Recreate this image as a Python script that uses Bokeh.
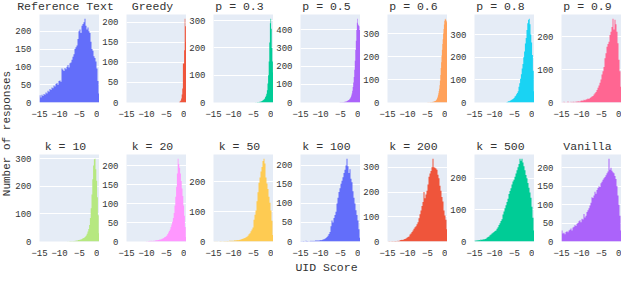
import numpy as np
from math import pi
from bokeh.plotting import figure
from bokeh.layouts import row, column
from bokeh.models import Range1d, FixedTicker, Label, ColumnDataSource
from bokeh.embed import file_html
from bokeh.resources import INLINE

# ---------------- data ----------------
titles = ["Reference Text", "Greedy", "p = 0.3", "p = 0.5", "p = 0.6", "p = 0.8", "p = 0.9",
          "k = 10", "k = 20", "k = 50", "k = 100", "k = 200", "k = 500", "Vanilla"]

# first bin edge and bin width for each histogram
bin_starts = [-15.0, -1.8, -4.5, -5.2, -5.0, -7.0, -15.0,
              -8.0, -10.0, -15.0, -15.0, -15.0, -15.0, -15.0]
bin_widths = [0.25, 0.15, 0.15, 0.13, 0.1, 0.2, 0.25,
              0.2, 0.2, 0.25, 0.25, 0.25, 0.25, 0.25]

reference_text = [20, 14, 22, 18, 24, 22, 28, 25, 33, 30, 38, 35, 42, 40, 48, 45,
                  52, 55, 50, 60, 62, 58, 95, 92, 88, 97, 93, 100, 105, 98, 110, 112,
                  120, 128, 135, 150, 155, 160, 178, 200, 205, 195, 215, 220,
                  225, 235, 215, 205, 210, 200, 195, 170, 150, 145, 130, 125, 115, 95, 60, 25]
greedy = [2, 3, 5, 10, 20, 35, 97, 97, 130, 209, 190, 150]
p_03 = [1, 0, 1, 2, 1, 2, 3, 2, 4, 5, 5, 6, 8, 10, 12, 15, 20, 25, 32, 45,
        70, 100, 150, 220, 290, 307, 270, 200, 150, 110]
p_05 = [1, 1, 2, 1, 2, 2, 3, 2, 3, 4, 4, 5, 6, 7, 9, 10, 12, 14, 17, 20,
        24, 30, 38, 50, 65, 85, 110, 140, 180, 230,
        290, 340, 400, 440, 462, 430, 425, 420, 400, 350]
p_06 = [1, 0, 1, 1, 0, 1, 1, 2, 1, 1, 2, 2, 3, 2, 3, 4, 4, 5, 6, 7,
        8, 10, 12, 15, 20, 25, 32, 40, 50, 60, 75, 95, 120, 150, 175, 205, 230, 255, 275, 300,
        320, 340, 355, 362, 365, 362, 360, 355, 350, 330]
p_08 = [2, 3, 5, 6, 8, 10, 12, 14, 17, 20, 26, 30, 36, 42, 50, 70, 85, 105, 125, 150,
        170, 200, 225, 260, 285, 320, 350, 365, 370, 345, 300, 265, 210, 140, 50]
p_09 = [1, 0, 2, 1, 0, 1, 3, 1, 0, 2, 1, 2, 2, 1, 3, 2, 4, 3, 3, 5,
        6, 5, 8, 7, 9, 10, 12, 11, 14, 16, 18, 20, 24, 28, 32, 38,
        45, 52, 60, 70, 85, 95, 108, 135, 150, 170, 178, 185,
        205, 215, 230, 255, 222, 252, 238, 215, 180, 130, 95, 48]
k_10 = [1, 0, 1, 2, 1, 2, 1, 2, 2, 3, 3, 4, 4, 5, 5, 6, 7, 8, 10, 12,
        13, 15, 18, 22, 28, 36, 45, 60, 85, 120, 170, 225, 275, 298, 300, 262, 220, 160, 95, 30]
k_20 = [1, 0, 1, 1, 2, 1, 2, 1, 2, 2, 2, 3, 3, 3, 4, 4, 5, 5, 6, 7,
        8, 9, 11, 12, 14, 16, 20, 24, 28, 32, 38, 45, 52, 62, 75, 95, 118, 145, 180, 219,
        205, 195, 180, 160, 140, 120, 95, 68, 38, 12]
k_50 = [0, 1, 0, 1, 0, 0, 1, 2, 0, 1, 1, 2, 1, 2, 2, 1, 3, 2, 3, 2,
        3, 4, 3, 5, 4, 5, 6, 7, 8, 9, 11, 12, 14, 16, 19, 24,
        28, 34, 40, 47, 73, 90, 104, 135, 165, 197, 215, 235,
        250, 270, 278, 262, 215, 195, 176, 150, 130, 104, 70, 22]
k_100 = [1, 0, 1, 1, 0, 2, 1, 1, 0, 1, 2, 1, 2, 1, 2, 3, 2, 3, 2, 4,
         3, 4, 5, 6, 7, 9, 12, 15, 20, 25, 40, 55, 50, 62, 70, 78,
         100, 115, 130, 140, 152, 160, 169, 180, 189, 200, 218, 198,
         180, 190, 165, 156, 132, 115, 100, 82, 70, 55, 32, 10]
k_200 = [0, 1, 1, 0, 2, 1, 1, 2, 2, 1, 3, 2, 5, 6, 7, 6, 9, 10, 12, 15,
         18, 20, 28, 32, 38, 44, 52, 58, 62, 70, 78, 94, 110, 125, 144, 160,
         200, 175, 190, 205, 230, 262, 275, 285, 300, 335, 300, 298,
         295, 290, 270, 256, 225, 205, 180, 162, 125, 105, 88, 50]
k_500 = [3, 2, 4, 3, 5, 4, 6, 5, 7, 6, 8, 9, 12, 14, 16, 20, 22, 25, 28, 30,
         33, 35, 40, 45, 52, 58, 65, 70, 85, 95, 105, 115, 125, 135, 150, 160,
         168, 180, 190, 195, 205, 215, 225, 235, 245, 262, 255, 262,
         250, 238, 225, 210, 200, 185, 170, 155, 138, 110, 75, 35]
vanilla = [30, 22, 24, 20, 26, 28, 25, 30, 32, 35, 30, 38, 40, 45, 42, 48, 50, 55, 58, 52,
           62, 60, 75, 65, 70, 80, 85, 90, 98, 105, 120, 118, 125, 135, 130, 140,
           145, 150, 148, 158, 162, 168, 172, 175, 180, 185, 190, 225,
           195, 200, 192, 188, 185, 178, 170, 150, 125, 100, 70, 30]

series = [reference_text, greedy, p_03, p_05, p_06, p_08, p_09,
          k_10, k_20, k_50, k_100, k_200, k_500, vanilla]

y_ticks = [[0, 50, 100, 150, 200], [0, 50, 100, 150, 200], [0, 100, 200, 300],
           [0, 100, 200, 300, 400], [0, 100, 200, 300], [0, 100, 200, 300], [0, 100, 200],
           [0, 100, 200, 300], [0, 50, 100, 150, 200], [0, 100, 200],
           [0, 50, 100, 150, 200], [0, 100, 200, 300], [0, 100, 200], [0, 50, 100, 150, 200]]

x_ticks = [-15, -10, -5, 0]
x_tick_labels = ["\u221215", "\u221210", "\u22125", "0"]

x_title = "UID Score"
y_title = "Number of responses"

# ---------------- style ----------------
colors = ["#636efa", "#EF553B", "#00cc96", "#ab63fa", "#FFA15A", "#19d3f3", "#FF6692",
          "#B6E880", "#FF97FF", "#FECB52", "#636efa", "#EF553B", "#00cc96", "#ab63fa"]
FONT = "Liberation Mono"
TXT = "#333333"
BG = "#E5ECF6"

YT_W = 12          # y-title strip width
PW = 87            # panel figure width
BL = 19            # left border (y tick labels)
FW = PW - BL       # frame width
TT_H = 13          # title strip height
TOP = 1            # panel top border
FH = 88            # frame height
BB_TOP = 38        # bottom border of upper row
BB_BOT = 16        # bottom border of lower row
XT_H = 18


def panel(i, bottom_border):
    c = list(series[i])
    edges = bin_starts[i] + bin_widths[i] * np.arange(len(c) + 1)
    src = ColumnDataSource(dict(x=edges, y=c + [c[-1]]))
    p = figure(width=PW, height=TOP + FH + bottom_border,
               x_range=Range1d(-15, 0), y_range=Range1d(0, max(c) * 1.05),
               output_backend="svg", toolbar_location=None,
               min_border_left=BL, min_border_right=0, min_border_top=TOP,
               min_border_bottom=bottom_border)
    p.varea_step(x="x", y1=0, y2="y", step_mode="after", source=src,
                 fill_color=colors[i], fill_alpha=1.0)
    p.background_fill_color = BG
    p.border_fill_color = "white"
    p.outline_line_color = None
    p.xgrid.grid_line_color = None
    p.ygrid.grid_line_color = "white"
    p.ygrid.grid_line_width = 1
    p.xaxis.ticker = FixedTicker(ticks=x_ticks)
    p.xaxis.major_label_overrides = dict(zip(x_ticks, x_tick_labels))
    p.yaxis.ticker = FixedTicker(ticks=y_ticks[i])
    for ax in (p.xaxis[0], p.yaxis[0]):
        ax.axis_line_color = None
        ax.major_tick_line_color = None
        ax.minor_tick_line_color = None
        ax.major_label_text_font = FONT
        ax.major_label_text_font_size = "9px"
        ax.major_label_text_color = TXT
        ax.major_label_standoff = 2
    return p


def title_strip(idx):
    w = 7 * PW
    f = figure(width=w, height=TT_H, x_range=Range1d(0, w), y_range=Range1d(0, TT_H),
               x_axis_type=None, y_axis_type=None, output_backend="svg",
               toolbar_location=None, min_border=0, outline_line_color=None)
    for j, i in enumerate(idx):
        f.add_layout(Label(x=j * PW + BL + FW / 2, y=1, text=titles[i], text_align="center",
                           text_baseline="bottom", text_font=FONT, text_font_size="11.5px",
                           text_color=TXT))
    return f


top_row = row(*[panel(i, BB_TOP) for i in range(7)], spacing=0)
bot_row = row(*[panel(i, BB_BOT) for i in range(7, 14)], spacing=0)
grid = column(title_strip(range(7)), top_row, title_strip(range(7, 14)), bot_row, spacing=0)

grid_h = 2 * (TT_H + TOP + FH) + BB_TOP + BB_BOT
ytf = figure(width=YT_W, height=grid_h, x_range=Range1d(0, YT_W), y_range=Range1d(0, grid_h),
             x_axis_type=None, y_axis_type=None, output_backend="svg", toolbar_location=None,
             min_border=0, outline_line_color=None)
ytf.add_layout(Label(x=YT_W / 2, y=grid_h - 133, text=y_title, angle=pi / 2,
                     text_align="center", text_baseline="middle", text_font=FONT,
                     text_font_size="11px", text_color=TXT))

total_w = YT_W + 7 * PW
xtf = figure(width=total_w, height=XT_H, x_range=Range1d(0, total_w), y_range=Range1d(0, XT_H),
             x_axis_type=None, y_axis_type=None, output_backend="svg", toolbar_location=None,
             min_border=0, outline_line_color=None)
frames_center = YT_W + (BL + 6 * PW + PW) / 2
xtf.add_layout(Label(x=frames_center, y=XT_H / 2, text=x_title, text_align="center",
                     text_baseline="middle", text_font=FONT, text_font_size="11.5px",
                     text_color=TXT))

layout = column(row(ytf, grid, spacing=0), xtf, spacing=0)

open("out.html", "w").write(file_html(layout, INLINE))
